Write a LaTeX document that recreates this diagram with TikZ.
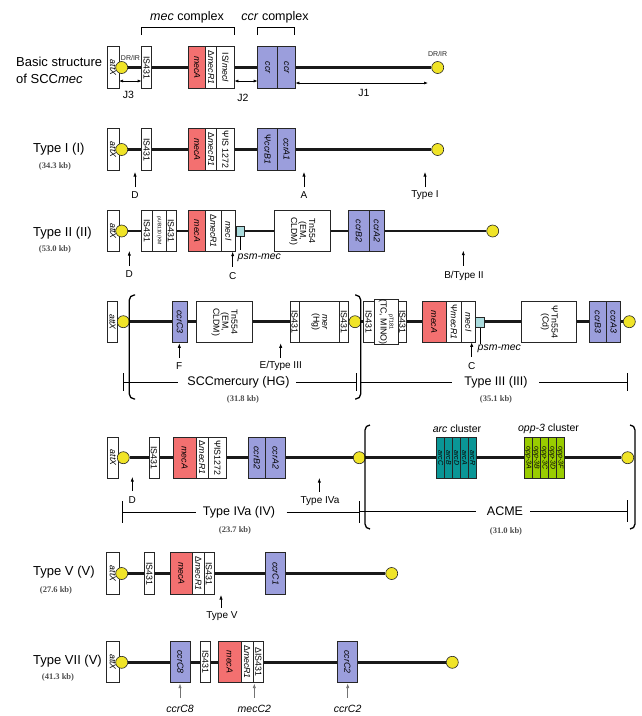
\documentclass[tikz,border=0pt]{standalone}
\usepackage{fontspec}
\setmainfont{Liberation Sans}
\newfontfamily\kbfont{Liberation Serif}
\usetikzlibrary{arrows.meta}
\pgfdeclarelayer{bg}
\pgfsetlayers{bg,main}
\definecolor{mecred}{RGB}{243,112,112}
\definecolor{ccrblue}{RGB}{155,158,220}
\definecolor{psmcyan}{RGB}{170,220,222}
\definecolor{arcteal}{RGB}{10,150,150}
\definecolor{oppgreen}{RGB}{153,204,0}
\definecolor{ringyellow}{RGB}{240,228,40}
\tikzset{
 gbox/.style={draw=black!85,line width=0.55pt,fill=white,rotate=-90,minimum width=41.5pt,inner sep=0pt,align=center,font=\fontsize{8.8}{9}\selectfont},
 mecf/.style={fill=mecred},
 ccrf/.style={fill=ccrblue},
 arcf/.style={fill=arcteal,font=\fontsize{7}{7.5}\selectfont\itshape},
 oppf/.style={fill=oppgreen,font=\fontsize{7}{7.5}\selectfont\itshape},
 ring/.style={circle,draw=black!85,fill=ringyellow,line width=0.6pt,minimum size=12pt,inner sep=0pt},
 bb/.style={line width=2.8pt,black!90},
 ptr/.style={line width=0.6pt,-{Latex[length=4.5pt,width=3.2pt]}},
 gptr/.style={ptr,draw=black!55},
 dimarr/.style={line width=0.6pt,{Latex[length=4pt,width=3pt]}-{Latex[length=4pt,width=3pt]}},
 titl/.style={font=\fontsize{13}{16.5}\selectfont,anchor=west,align=left,inner sep=0pt},
 kbl/.style={font=\kbfont\bfseries\fontsize{8.5}{10}\selectfont,text=black!70,inner sep=0pt},
 arrl/.style={font=\fontsize{10}{12}\selectfont,inner sep=0pt},
 jl/.style={font=\fontsize{10.5}{12}\selectfont,inner sep=0pt},
 spanl/.style={font=\fontsize{12.5}{14}\selectfont,inner sep=0pt},
 smalll/.style={font=\fontsize{7}{7.5}\selectfont,inner sep=0pt,text=black!85},
 brk/.style={line width=1.3pt,rounded corners=5pt},
 thin/.style={line width=0.6pt},
 psm/.style={draw=black!85,fill=psmcyan,line width=0.55pt,minimum width=8.3pt,minimum height=10pt,inner sep=0pt},
}
\newcommand\gb[6][]{\node[gbox,minimum height={#4-#3},#1] (#2) at ({(#3+#4)/2},#5) {#6};}
\begin{document}
\begin{tikzpicture}[x=1pt,y=-1pt]
\useasboundingbox (0,0) rectangle (642,716);

% ---------------- Row 0: basic structure
\node[titl] (t0) at (16,70.5) {Basic structure\\of SCC\textit{mec}};
\gb{a0}{107}{119}{67.5}{\itshape attX}
\gb{is0}{141.7}{151.7}{67.5}{IS431}
\gb[mecf]{m0}{188.3}{205.7}{67.5}{\itshape mecA}
\gb{d0}{205.7}{216.7}{67.5}{Δ\textit{mecR1}}
\gb{i0}{216.7}{234.3}{67.5}{IS/\textit{mecI}}
\gb[ccrf]{c0a}{257.7}{277.7}{67.5}{\itshape ccr}
\gb[ccrf]{c0b}{277.7}{295.3}{67.5}{\itshape ccr}
\node[ring] (L0) at (121.7,67.5) {};
\node[ring] (R0) at (437.7,67.5) {};
\begin{pgfonlayer}{bg}\draw[bb] (L0) -- (R0);\end{pgfonlayer}
\node[smalll] (dr0a) at (130.5,58) {DR/IR};
\node[smalll] (dr0b) at (437.7,54) {DR/IR};
\node[spanl] (mecc) at (187,17) {\textit{mec} complex};
\node[spanl] (ccrc) at (275,17) {\textit{ccr} complex};
\draw[thin] (141.7,35) -- (141.7,27.7) -- (234.3,27.7) -- (234.3,35);
\draw[thin] (257.7,35) -- (257.7,27.7) -- (294.3,27.7) -- (294.3,35);
\coordinate (j3a) at (119,81); \coordinate (j3b) at (141.7,81);
\coordinate (j2a) at (234.3,81); \coordinate (j2b) at (257.7,81);
\coordinate (j1a) at (295.3,83); \coordinate (j1b) at (428,83);
\draw[dimarr] (j3a) -- (j3b);
\draw[dimarr] (j2a) -- (j2b);
\draw[dimarr] (j1a) -- (j1b);
\node[jl] (J3) at (128.5,95) {J3};
\node[jl] (J2) at (243,98) {J2};
\node[jl] (J1) at (364,93) {J1};

% ---------------- Row 1: Type I
\node[titl] (t1) at (33,149) {Type I (I)};
\node[kbl] (k1) at (55,166) {(34.3 kb)};
\gb{a1}{107}{119}{149.5}{\itshape attX}
\gb{is1}{141.7}{151.7}{149.5}{IS431}
\gb[mecf]{m1}{188.3}{205.7}{149.5}{\itshape mecA}
\gb{d1}{205.7}{216.7}{149.5}{Δ\textit{mecR1}}
\gb{p1}{216.7}{234.3}{149.5}{ΨIS 1272}
\gb[ccrf]{c1a}{257.7}{277.7}{149.5}{Ψ\textit{ccrB1}}
\gb[ccrf]{c1b}{277.7}{295.3}{149.5}{\itshape ccrA1}
\node[ring] (L1) at (121.7,149.5) {};
\node[ring] (R1) at (437.7,149.5) {};
\begin{pgfonlayer}{bg}\draw[bb] (L1) -- (R1);\end{pgfonlayer}
\coordinate (s1D) at (135,187); \coordinate (e1D) at (135,172);
\coordinate (s1A) at (304,187); \coordinate (e1A) at (304,172);
\coordinate (s1T) at (425,187); \coordinate (e1T) at (425,172);
\draw[ptr] (s1D) -- (e1D); \draw[ptr] (s1A) -- (e1A); \draw[ptr] (s1T) -- (e1T);
\node[arrl] (l1D) at (135,195.5) {D};
\node[arrl] (l1A) at (304,195.5) {A};
\node[arrl] (l1T) at (425,195.5) {Type I};

% ---------------- Row 2: Type II
\node[titl] (t2) at (33,233) {Type II (II)};
\node[kbl] (k2) at (55,249) {(53.0 kb)};
\gb{a2}{107}{119}{231}{\itshape attX}
\gb{is2a}{141.7}{152.3}{231}{IS431}
\gb{pub}{152.3}{166}{231}{\fontsize{5}{5.5}\selectfont pUB110 (KM}
\gb{is2b}{166}{176}{231}{IS431}
\gb[mecf]{m2}{188.3}{205.7}{231}{\itshape mecA}
\gb{d2}{205.7}{221}{231}{Δ\textit{mecR1}}
\gb{i2}{221}{235.7}{231}{\itshape mecI}
\gb{tn2}{274}{330.7}{231}{Tn554\\(EM,\\CLDM)}
\gb[ccrf]{c2a}{348.3}{369.7}{231}{\itshape ccrB2}
\gb[ccrf]{c2b}{369.7}{384}{231}{\itshape ccrA2}
\node[psm] (psm2) at (240.15,231) {};
\node[ring] (L2) at (121.7,231) {};
\node[ring] (R2) at (492.7,231) {};
\begin{pgfonlayer}{bg}\draw[bb] (L2) -- (R2);\end{pgfonlayer}
\coordinate (q2) at (240.7,250);
\draw[thin] (psm2.south -| q2) -- (q2);
\node[arrl,anchor=west,font=\fontsize{10.5}{12}\selectfont\itshape] (psml2) at (237.5,257.5) {psm-mec};
\coordinate (s2D) at (129.3,266); \coordinate (e2D) at (129.3,251);
\coordinate (s2C) at (232.7,266.5); \coordinate (e2C) at (232.7,251.7);
\coordinate (s2B) at (463.3,265.5); \coordinate (e2B) at (463.3,250.7);
\draw[ptr] (s2D) -- (e2D); \draw[ptr] (s2C) -- (e2C); \draw[ptr] (s2B) -- (e2B);
\node[arrl] (l2D) at (129.3,274.5) {D};
\node[arrl] (l2C) at (232.7,276) {C};
\node[arrl] (l2B) at (464,275.5) {B/Type II};

% ---------------- Row 3: SCCmercury / Type III
\gb{a3}{107.7}{117.3}{322}{\itshape attX}
\gb[ccrf]{c3}{172.7}{187.3}{322}{\itshape ccrC3}
\gb{tn3}{196.7}{252.3}{322}{Tn554\\(EM,\\CLDM)}
\gb{is3a}{290}{299.3}{322}{IS431}
\gb{mer}{299.3}{339.3}{322}{\textit{mer}\\(Hg)}
\gb{is3b}{339.3}{348.7}{322}{IS431}
\gb{is3c}{363.3}{374}{322}{IS431}
\gb{pt}{374}{398.3}{322}{\fontsize{5.5}{6}\selectfont pT181\\(TC, MINO)}
\gb{is3d}{398.3}{406.7}{322}{IS431}
\gb[mecf]{m3}{422.3}{446}{322}{\itshape mecA}
\gb{d3}{446}{461.7}{322}{Ψ\textit{mecR1}}
\gb{i3}{461.7}{475}{322}{\itshape mecI}
\gb{tn3b}{521.7}{576.7}{322}{ΨTn554\\(Cd)}
\gb[ccrf]{c3a}{589.3}{606.7}{322}{\itshape ccrB3}
\gb[ccrf]{c3b}{606.7}{620.7}{322}{\itshape ccrA3}
\node[psm] (psm3) at (479.65,322.3) {};
\node[ring] (L3) at (123.3,321.7) {};
\node[ring] (M3) at (355,321.7) {};
\node[ring] (R3) at (629.3,321.7) {};
\begin{pgfonlayer}{bg}\draw[bb] (L3) -- (R3);\end{pgfonlayer}
\coordinate (q3) at (480.7,344);
\draw[thin] (psm3.south -| q3) -- (q3);
\node[arrl,anchor=west,font=\fontsize{10.5}{12}\selectfont\itshape] (psml3) at (477.5,348.5) {psm-mec};
\coordinate (s3F) at (179.3,357.7); \coordinate (e3F) at (179.3,343.3);
\coordinate (s3E) at (280.7,357.7); \coordinate (e3E) at (280.7,343.3);
\coordinate (s3C) at (471.7,356.7); \coordinate (e3C) at (471.7,342.3);
\draw[ptr] (s3F) -- (e3F); \draw[ptr] (s3E) -- (e3E); \draw[ptr] (s3C) -- (e3C);
\node[arrl] (l3F) at (179.3,366) {F};
\node[arrl] (l3E) at (280.7,366) {E/Type III};
\node[arrl] (l3C) at (471.7,366) {C};
\draw[brk] (135,295) -- (129.3,295) -- (129.3,399) -- (135,399);
\draw[brk] (355,295) -- (360.7,295) -- (360.7,399) -- (355,399);
\node[spanl] (hg) at (238.5,382) {SCCmercury (HG)};
\node[kbl] (khg) at (243,399) {(31.8 kb)};
\draw[thin] (123.3,373) -- (123.3,391);
\draw[thin] (123.3,382) -- (178,382);
\draw[thin] (296,382) -- (356.7,382);
\draw[thin] (356.7,373) -- (356.7,391);
\node[spanl] (t3) at (496,382) {Type III (III)};
\node[kbl] (k3) at (496,399) {(35.1 kb)};
\draw[thin] (360.7,382) -- (452,382);
\draw[thin] (539,382) -- (627.3,382);
\draw[thin] (627.3,373) -- (627.3,391);

% ---------------- Row 4: Type IVa + ACME
\gb{a4}{107.7}{118.3}{457.7}{\itshape attX}
\gb{is4}{149}{159}{457.7}{IS431}
\gb[mecf]{m4}{173.3}{196}{457.7}{\itshape mecA}
\gb{d4}{196}{208.3}{457.7}{Δ\textit{mecR1}}
\gb{p4}{208.3}{226.7}{457.7}{ΨIS1272}
\gb[ccrf]{c4a}{248.3}{265.7}{457.7}{\itshape ccrB2}
\gb[ccrf]{c4b}{265.7}{285.7}{457.7}{\itshape ccrA2}
\gb[arcf]{arc1}{436.7}{444.7}{457.7}{arcC}
\gb[arcf]{arc2}{444.7}{452.7}{457.7}{arcB}
\gb[arcf]{arc3}{452.7}{460.7}{457.7}{arcD}
\gb[arcf]{arc4}{460.7}{468.7}{457.7}{arcA}
\gb[arcf]{arc5}{468.7}{476.7}{457.7}{arcR}
\gb[oppf]{opp1}{524.3}{532.3}{457.7}{opp-3A}
\gb[oppf]{opp2}{532.3}{540.3}{457.7}{opp-3B}
\gb[oppf]{opp3}{540.3}{548.3}{457.7}{opp-3C}
\gb[oppf]{opp4}{548.3}{556.3}{457.7}{opp-3D}
\gb[oppf]{opp5}{556.3}{564.3}{457.7}{opp-3F}
\node[ring] (L4) at (123.3,457.7) {};
\node[ring] (M4) at (359.3,457.7) {};
\node[ring] (R4) at (627.7,457.7) {};
\begin{pgfonlayer}{bg}\draw[bb] (L4) -- (R4);\end{pgfonlayer}
\node[arrl,font=\fontsize{10.5}{12}\selectfont] (arcl) at (457,429) {\textit{arc} cluster};
\node[arrl,font=\fontsize{10.5}{12}\selectfont] (oppl) at (548.5,429) {\textit{opp-3} cluster};
\coordinate (s4D) at (132.3,491); \coordinate (e4D) at (132.3,477);
\coordinate (s4T) at (319.3,491.5); \coordinate (e4T) at (319.3,478);
\draw[ptr] (s4D) -- (e4D); \draw[ptr] (s4T) -- (e4T);
\node[arrl] (l4D) at (132.3,500.5) {D};
\node[arrl] (l4T) at (320,500.7) {Type IVa};
\draw[brk] (370,425) -- (365,425) -- (365,529) -- (370,529);
\draw[brk] (630,425) -- (635,425) -- (635,529) -- (630,529);
\node[spanl] (t4) at (239,512) {Type IVa (IV)};
\node[kbl] (k4) at (235,530) {(23.7 kb)};
\draw[thin] (122.3,501) -- (122.3,523);
\draw[thin] (122.3,512) -- (196,512);
\draw[thin] (286.7,512) -- (359.3,512);
\draw[thin] (359.3,501) -- (359.3,523);
\node[spanl] (acme) at (505,511) {ACME};
\node[kbl] (kacme) at (506,531) {(31.0 kb)};
\draw[thin] (359.3,511) -- (476,511);
\draw[thin] (530,511) -- (627.7,511);
\draw[thin] (627.7,500) -- (627.7,522);

% ---------------- Row 5: Type V
\node[titl] (t5) at (33,572.3) {Type V (V)};
\node[kbl] (k5) at (56,590) {(27.6 kb)};
\gb{a5}{106.7}{119}{573.5}{\itshape attX}
\gb{is5a}{144.3}{154.3}{573.5}{IS431}
\gb[mecf]{m5}{170}{192.7}{573.5}{\itshape mecA}
\gb{d5}{192.7}{204}{573.5}{Δ\textit{mecR1}}
\gb{is5b}{204}{214}{573.5}{IS431}
\gb[ccrf]{c5}{265.7}{285.7}{573.5}{\itshape ccrC1}
\node[ring] (L5) at (121.7,573.5) {};
\node[ring] (R5) at (391.7,573.5) {};
\begin{pgfonlayer}{bg}\draw[bb] (L5) -- (R5);\end{pgfonlayer}
\coordinate (s5T) at (221,607.5); \coordinate (e5T) at (221,595);
\draw[ptr] (s5T) -- (e5T);
\node[arrl] (l5T) at (222,616) {Type V};

% ---------------- Row 6: Type VII
\node[titl] (t6) at (33,661) {Type VII (V)};
\node[kbl] (k6) at (58,677.3) {(41.3 kb)};
\gb{a6}{106.7}{119}{662}{\itshape attX}
\gb[ccrf]{c6a}{170}{190.7}{662}{\itshape ccrC8}
\gb{is6}{200}{210.7}{662}{IS431}
\gb[mecf]{m6}{218.3}{241}{662}{\itshape mecA}
\gb{d6}{241}{253.3}{662}{Δ\textit{mecR1}}
\gb{is6b}{253.3}{263.3}{662}{ΔIS431}
\gb[ccrf]{c6b}{337.3}{357.7}{662}{\itshape ccrC2}
\node[ring] (L6) at (121.7,662.3) {};
\node[ring] (R6) at (452.3,662.3) {};
\begin{pgfonlayer}{bg}\draw[bb] (L6) -- (R6);\end{pgfonlayer}
\coordinate (s6a) at (180,697.5); \coordinate (e6a) at (180,683.5);
\coordinate (s6b) at (254.3,697.5); \coordinate (e6b) at (254.3,683.5);
\coordinate (s6c) at (347.7,697.5); \coordinate (e6c) at (347.7,683.5);
\draw[gptr] (s6a) -- (e6a); \draw[gptr] (s6b) -- (e6b); \draw[gptr] (s6c) -- (e6c);
\node[arrl,font=\fontsize{10.5}{12}\selectfont\itshape] (l6a) at (180,708.5) {ccrC8};
\node[arrl,font=\fontsize{10.5}{12}\selectfont\itshape] (l6b) at (254.3,708.5) {mecC2};
\node[arrl,font=\fontsize{10.5}{12}\selectfont\itshape] (l6c) at (347.7,708.5) {ccrC2};
\end{tikzpicture}
\end{document}
